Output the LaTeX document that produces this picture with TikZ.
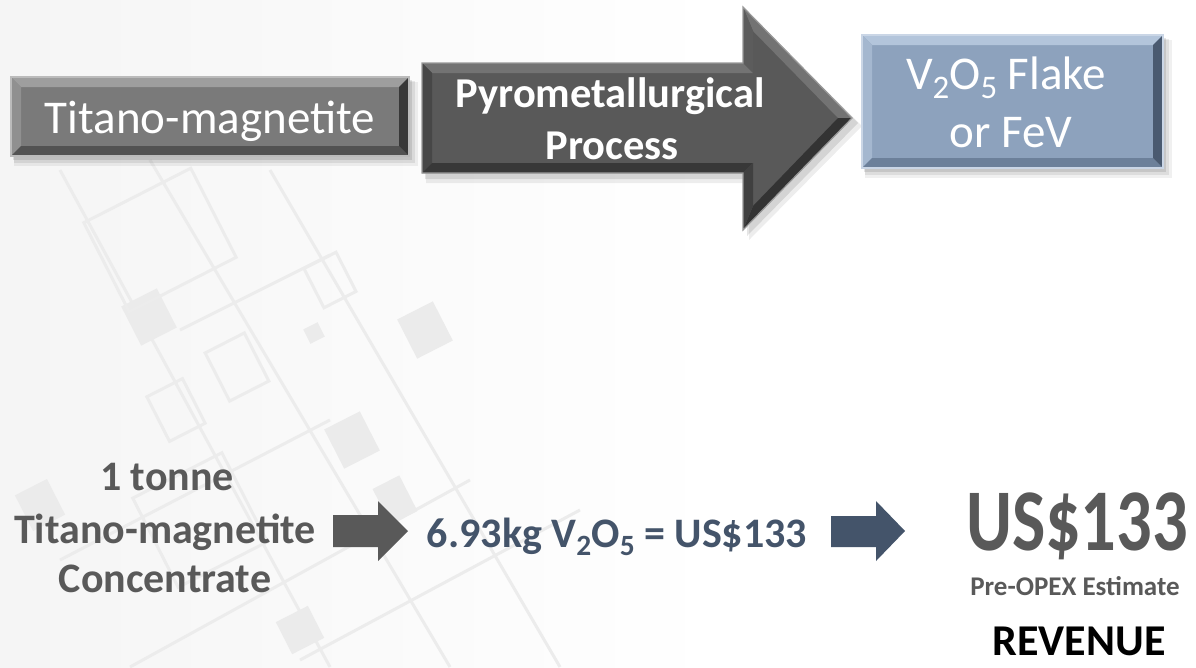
\documentclass[tikz,border=0pt]{standalone}
\usepackage{fontspec}
\usepackage{graphicx}
\setmainfont{Carlito}
\definecolor{txtgray}{HTML}{595959}
\definecolor{slate}{HTML}{44546A}
\definecolor{bgline}{HTML}{ECECEC}
\definecolor{bgfill}{HTML}{EBEBEB}
\definecolor{pbase}{HTML}{8DA2BD}
\definecolor{ptop}{HTML}{B3C5DB}
\definecolor{pbot}{HTML}{6C809A}
\definecolor{pright}{HTML}{4A5A70}
\newcommand\lowsub[1]{\raisebox{-0.2em}{\scalebox{0.7}{#1}}}
% bevelled rectangle: x1 y1 x2 y2 depth base top bottom right
\newcommand\bvbox[9]{%
  \colorlet{bvbase}{#6}\colorlet{bvtop}{#7}\colorlet{bvbot}{#8}\colorlet{bvright}{#9}%
  \fill[black,opacity=0.06] (#1+3,#2+5) rectangle (#3+9,#4+10);
  \fill[black,opacity=0.08] (#1+3,#2+4) rectangle (#3+6,#4+7);
  \fill[black,opacity=0.10] (#1+2,#2+3) rectangle (#3+3,#4+4);
  \fill[bvbase] (#1,#2) rectangle (#3,#4);
  \fill[bvtop] (#1,#2) -- (#3,#2) -- (#3-#5,#2+#5) -- (#1+#5,#2+#5) -- cycle;
  \fill[bvtop!60!bvbase] (#1,#2) -- (#1+#5,#2+#5) -- (#1+#5,#4-#5) -- (#1,#4) -- cycle;
  \fill[bvbot] (#1,#4) -- (#1+#5,#4-#5) -- (#3-#5,#4-#5) -- (#3,#4) -- cycle;
  \fill[bvright] (#3,#2) -- (#3,#4) -- (#3-#5,#4-#5) -- (#3-#5,#2+#5) -- cycle;
  \draw[bvtop!70!white,line width=1.2] (#1,#2) rectangle (#3,#4);
}
\tikzset{
  boxtext/.style={text=white,font=\fontsize{47}{56}\selectfont,anchor=base,inner sep=0},
  arrowtext/.style={text=white,font=\bfseries\fontsize{42.5}{50}\selectfont,anchor=base,inner sep=0},
  lowtext/.style={text=txtgray,font=\bfseries\fontsize{42}{51}\selectfont,anchor=base,inner sep=0},
  bgl/.style={draw=bgline,line width=3},
  bgsq/.style={fill=bgfill}
}
\begin{document}
\begin{tikzpicture}[x=1pt,y=-1pt]
\useasboundingbox (0,0) rectangle (1196,667);
\fill[white] (0,0) rectangle (1196,667);
\shade[left color=black!4,right color=white] (0,0) rectangle (720,667);
% ---------- faint background pattern ----------
\begin{scope}
\draw[bgl] (60,170) -- (330,667);
\draw[bgl] (150,160) -- (450,667);
\draw[bgl] (270,170) -- (560,667);
\draw[bgl] (60,560) -- (330,420);
\draw[bgl] (130,667) -- (470,480);
\draw[bgl] (180,330) -- (330,255);
\draw[bgl] (300,660) -- (580,510);
\begin{scope}[rotate around={27:(149,317)}]
  \fill[bgsq] (129,295) rectangle (169,339);
\end{scope}
\begin{scope}[rotate around={27:(314,333)}]
  \fill[bgsq] (306,325) rectangle (322,341);
\end{scope}
\begin{scope}[rotate around={27:(425,330)}]
  \fill[bgsq] (405,308) rectangle (445,352);
\end{scope}
\begin{scope}[rotate around={27:(352,440)}]
  \fill[bgsq] (332,418) rectangle (372,462);
\end{scope}
\begin{scope}[rotate around={27:(40,505)}]
  \fill[bgsq] (22,485) rectangle (58,525);
\end{scope}
\begin{scope}[rotate around={27:(300,630)}]
  \fill[bgsq] (282,612) rectangle (318,648);
\end{scope}
\begin{scope}[rotate around={27:(395,500)}]
  \fill[bgsq] (380,480) rectangle (410,520);
\end{scope}
\begin{scope}[rotate around={27:(237,367)}]
  \draw[bgl] (215,340) rectangle (259,394);
\end{scope}
\begin{scope}[rotate around={27:(176,410)}]
  \draw[bgl] (156,385) rectangle (196,435);
\end{scope}
\begin{scope}[rotate around={27:(330,280)}]
  \draw[bgl] (312,258) rectangle (348,302);
\end{scope}
\begin{scope}[rotate around={27:(160,240)}]
  \draw[bgl] (100,190) rectangle (220,290);
\end{scope}
\begin{scope}[rotate around={27:(200,520)}]
  \draw[bgl] (150,470) rectangle (250,570);
\end{scope}
\end{scope}
% ---------- top row ----------
\bvbox{11}{77}{409}{156}{10}{black!52}{black!38}{black!68}{black!78}
\node[boxtext] (ore) at (210,133) {Titano-magnetite};
% big arrow
\fill[black,opacity=0.10] (425,67) -- (747,67) -- (747,11) -- (858,123) -- (747,236) -- (747,179) -- (425,179) -- cycle;
\fill[black,opacity=0.07] (426,69) -- (749,69) -- (749,14) -- (862,126) -- (749,240) -- (749,183) -- (426,183) -- cycle;
\fill[black!65] (422,63) -- (743,63) -- (743,7) -- (852,118) -- (743,230) -- (743,173) -- (422,173) -- cycle;
\fill[black!55] (422,63) -- (743,63) -- (753,73) -- (432,73) -- cycle;
\fill[black!55] (743,7) -- (852,118) -- (838,118) -- (753,31) -- cycle;
\fill[black!72] (432,73) -- (422,63) -- (422,173) -- (432,163) -- cycle;
\fill[black!78] (422,173) -- (432,163) -- (753,163) -- (743,173) -- cycle;
\fill[black!80] (852,118) -- (743,230) -- (753,206) -- (838,118) -- cycle;
\fill[black!64] (753,73) -- (753,31) -- (743,7) -- (743,63) -- cycle;
\fill[black!75] (753,163) -- (753,206) -- (743,230) -- (743,173) -- cycle;
\draw[black!40,line width=1.2] (422,63) -- (743,63) -- (743,7) -- (852,118) -- (743,230) -- (743,173) -- (422,173) -- cycle;
\node[arrowtext] (pyro1) at (610,107) {Pyrometallurgical};
\node[arrowtext] (pyro2) at (612,159) {Process};
% product box
\bvbox{862}{35}{1163}{168}{10}{pbase}{ptop}{pbot}{pright}
\node[boxtext] (prod1) at (1006,89) {V\lowsub{2}O\lowsub{5} Flake};
\node[boxtext] (prod2) at (1011,147) {or FeV};
% ---------- bottom row ----------
\node[lowtext] (c1) at (167,490) {1 tonne};
\node[lowtext] (c2) at (165,543) {Titano-magnetite};
\node[lowtext] (c3) at (165,592) {Concentrate};
\fill[txtgray] (333,515) -- (378,515) -- (378,501) -- (408,531) -- (378,561) -- (378,547) -- (333,547) -- cycle;
\node[lowtext,text=slate] (yield) at (617,547) {6.93kg V\lowsub{2}O\lowsub{5} = US\$133};
\fill[slate] (831,516) -- (876,516) -- (876,501) -- (905,531) -- (876,561) -- (876,547) -- (831,547) -- cycle;
\node[lowtext,font=\bfseries\fontsize{88}{96}\selectfont] (rev) at (1077,550) {\scalebox{0.8}[1]{US\$133}};
\node[lowtext,font=\bfseries\fontsize{27}{32}\selectfont] (opex) at (1075,595) {Pre-OPEX Estimate};
\node[lowtext,text=black,font=\bfseries\fontsize{44}{52}\selectfont] (revlabel) at (1079,655) {REVENUE};
\end{tikzpicture}
\end{document}
